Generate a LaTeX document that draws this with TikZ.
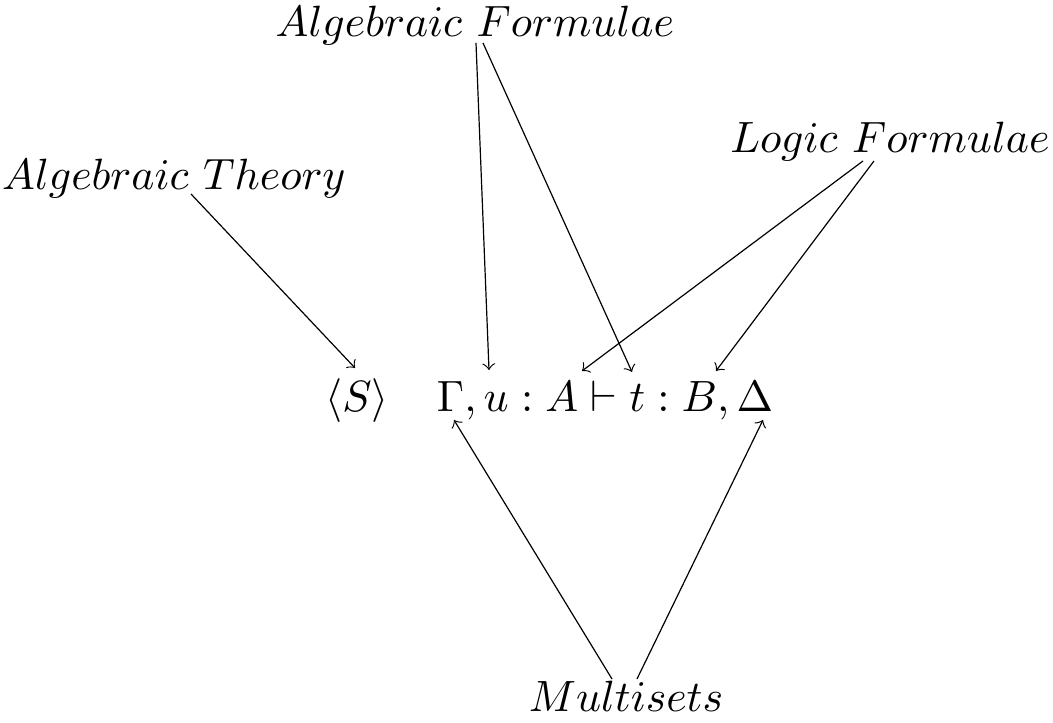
\documentclass[tikz,border=0pt]{standalone}
\usetikzlibrary{calc}
\begin{document}
\begin{tikzpicture}[x=0.25pt,y=-0.25pt,
  lbl/.style={inner sep=0pt,anchor=base,font=\fontsize{11.1}{13}\selectfont},
  conn/.style={->,line width=0.3pt}]
\useasboundingbox (0,0) rectangle (1053,723);
\node[lbl] (AT) at (174,190) {$Algebraic\ Theory$};
\node[lbl] (AF) at (475,37) {$Algebraic\ Formulae$};
\node[lbl] (LF) at (890,153) {$Logic\ Formulae$};
\node[lbl] (S) at (357,412) {$\langle S\rangle$};
\node[lbl,font=\fontsize{10.8}{13}\selectfont] (F) at (605,412) {$\Gamma, u : A \vdash t : B, \Delta$};
\node[lbl] (M) at (626,712) {$Multisets$};
% start points
\coordinate (at1) at (191,194);
\coordinate (af1) at (476,43);
\coordinate (af2) at (483,43);
\coordinate (lf1) at (863,161);
\coordinate (lf2) at (874,161);
\coordinate (m1) at (612,679);
\coordinate (m2) at (637,679);
% end points
\coordinate (eS) at (355,368);
\coordinate (eu) at (489,370);
\coordinate (et) at (632,372);
\coordinate (eA) at (582,371);
\coordinate (eB) at (716,371);
\coordinate (eG) at (454,420);
\coordinate (eD) at (763,420);
\draw[conn] (at1) -- (eS);
\draw[conn] (af1) -- (eu);
\draw[conn] (af2) -- (et);
\draw[conn] (lf1) -- (eA);
\draw[conn] (lf2) -- (eB);
\draw[conn] (m1) -- (eG);
\draw[conn] (m2) -- (eD);
\end{tikzpicture}
\end{document}
